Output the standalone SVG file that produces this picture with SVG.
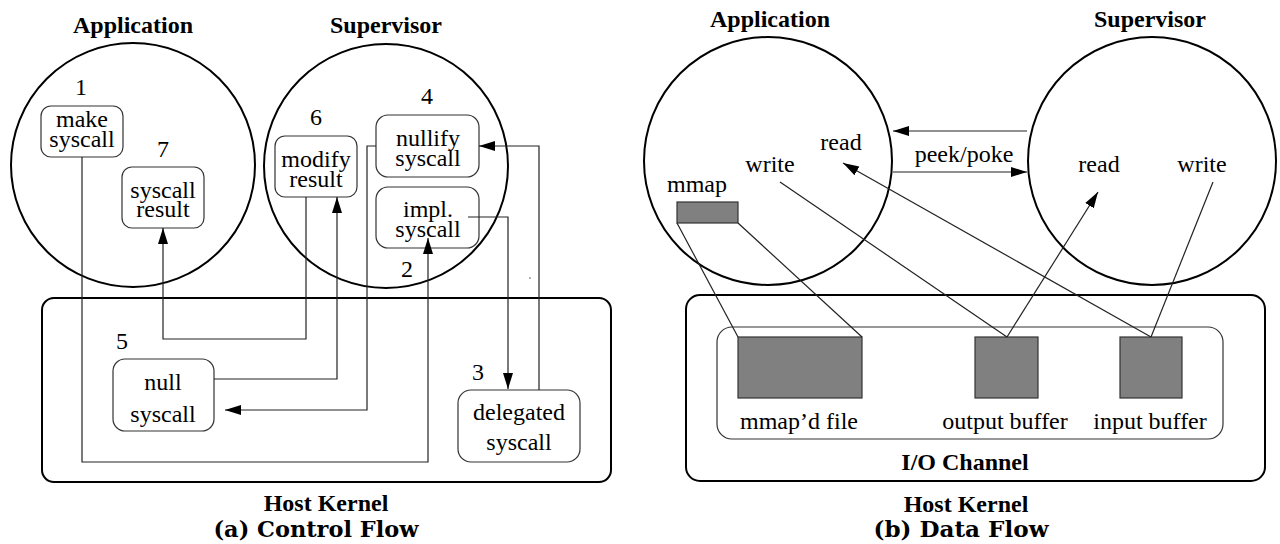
<svg xmlns="http://www.w3.org/2000/svg" width="1280" height="544" viewBox="0 0 1280 544">
<defs>
<marker id="arr" markerUnits="userSpaceOnUse" markerWidth="17" markerHeight="11" refX="16" refY="5" orient="auto">
<path d="M0,0 L16,5 L0,10 z" fill="#000"/>
</marker>
<style>
text{font-family:"Liberation Serif","Times New Roman",serif;font-size:24px;fill:#000;text-anchor:middle}
.b{font-weight:bold}
.cap{font-family:"DejaVu Serif",serif;font-weight:bold;font-size:22px}
.circ{fill:none;stroke:#000;stroke-width:2}
.kern{fill:none;stroke:#000;stroke-width:2}
.box{fill:#fff;stroke:#333;stroke-width:1.2}
.ln{fill:none;stroke:#222;stroke-width:1.2}
.gr{fill:#808080;stroke:#333;stroke-width:1.2}
</style>
</defs>
<rect width="1280" height="544" fill="#fff"/>

<!-- Panel (a) -->
<g id="a-application">
<circle class="circ" cx="133" cy="165" r="122"/>
<text class="b" x="133" y="33">Application</text>
</g>
<g id="a-supervisor">
<circle class="circ" cx="386" cy="166" r="122"/>
<text class="b" x="386" y="33">Supervisor</text>
</g>
<g id="a-kernel">
<rect class="kern" x="42" y="298" width="569" height="184" rx="12"/>
<text class="b" x="326" y="511">Host Kernel</text>
<text class="cap" x="316" y="537" textLength="205" lengthAdjust="spacingAndGlyphs">(a) Control Flow</text>
</g>
<g id="a-make-syscall">
<rect class="box" x="41" y="106" width="82" height="51" rx="10"/>
<text x="81" y="95">1</text>
<text x="82" y="127">make</text>
<text x="82" y="147">syscall</text>
</g>
<g id="a-syscall-result">
<rect class="box" x="122" y="167" width="82" height="61" rx="10"/>
<text x="163" y="157">7</text>
<text x="163" y="198">syscall</text>
<text x="163" y="217">result</text>
</g>
<g id="a-modify-result">
<rect class="box" x="275" y="136" width="82" height="61" rx="10"/>
<text x="316" y="125">6</text>
<text x="316" y="167">modify</text>
<text x="316" y="187">result</text>
</g>
<g id="a-nullify-syscall">
<rect class="box" x="376" y="115" width="103" height="62" rx="12"/>
<text x="427" y="104">4</text>
<text x="428" y="146">nullify</text>
<text x="428" y="166">syscall</text>
</g>
<g id="a-impl-syscall">
<rect class="box" x="376" y="187" width="103" height="61" rx="12"/>
<text x="407" y="277">2</text>
<text x="428" y="217">impl.</text>
<text x="428" y="237">syscall</text>
</g>
<g id="a-null-syscall">
<rect class="box" x="113" y="359" width="101" height="72" rx="12"/>
<text x="122" y="349">5</text>
<text x="163" y="390">null</text>
<text x="163" y="422">syscall</text>
</g>
<g id="a-delegated-syscall">
<rect class="box" x="458" y="390" width="122" height="72" rx="13"/>
<text x="478" y="380">3</text>
<text x="519" y="420">delegated</text>
<text x="519" y="450">syscall</text>
</g>
<g id="a-connectors">
<path class="ln" d="M82,157 V462 H428 V238" marker-end="url(#arr)"/>
<path class="ln" d="M468,217 H508 V389" marker-end="url(#arr)"/>
<path class="ln" d="M539,390 V146 H479" marker-end="url(#arr)"/>
<path class="ln" d="M376,146 H367 V410 H225" marker-end="url(#arr)"/>
<path class="ln" d="M214,379 H337 V197" marker-end="url(#arr)"/>
<path class="ln" d="M306,197 V339 H163 V228" marker-end="url(#arr)"/>
<circle cx="530" cy="278" r="0.8" fill="#555"/>
</g>

<!-- Panel (b) -->
<g id="b-application">
<circle class="circ" cx="768" cy="161" r="124"/>
<text class="b" x="770" y="27">Application</text>
<text x="841" y="150">read</text>
<text x="770" y="172">write</text>
<text x="697" y="192">mmap</text>
<rect class="gr" x="677" y="202" width="61" height="21"/>
</g>
<g id="b-supervisor">
<circle class="circ" cx="1152" cy="161" r="124"/>
<text class="b" x="1150" y="27">Supervisor</text>
<text x="1099" y="172">read</text>
<text x="1202" y="172">write</text>
</g>
<g id="b-kernel">
<rect class="kern" x="686" y="295" width="579" height="186" rx="14"/>
<text class="b" x="966" y="512">Host Kernel</text>
<text class="cap" x="961" y="537" textLength="175" lengthAdjust="spacingAndGlyphs">(b) Data Flow</text>
</g>
<g id="b-io-channel">
<rect class="box" x="717" y="327" width="506" height="112" rx="15"/>
<text class="b" x="965" y="470">I/O Channel</text>
</g>
<g id="b-mmap-file">
<rect class="gr" x="738" y="337" width="124" height="61"/>
<text x="799" y="429">mmap’d file</text>
</g>
<g id="b-output-buffer">
<rect class="gr" x="975" y="337" width="63" height="61"/>
<text x="1005" y="429">output buffer</text>
</g>
<g id="b-input-buffer">
<rect class="gr" x="1120" y="337" width="62" height="61"/>
<text x="1150" y="429">input buffer</text>
</g>
<g id="b-connectors">
<text x="964" y="162">peek/poke</text>
<path class="ln" d="M1027,131 H893" marker-end="url(#arr)"/>
<path class="ln" d="M893,172 H1027" marker-end="url(#arr)"/>
<path class="ln" d="M677,223 L738,337" stroke-width="0.9"/>
<path class="ln" d="M738,223 L862,337" stroke-width="0.9"/>
<path class="ln" d="M780,182 L1007,337"/>
<path class="ln" d="M1007,337 L1098,192" marker-end="url(#arr)"/>
<path class="ln" d="M1151,337 L843,163" marker-end="url(#arr)"/>
<path class="ln" d="M1213,182 L1151,337"/>
</g>
</svg>
